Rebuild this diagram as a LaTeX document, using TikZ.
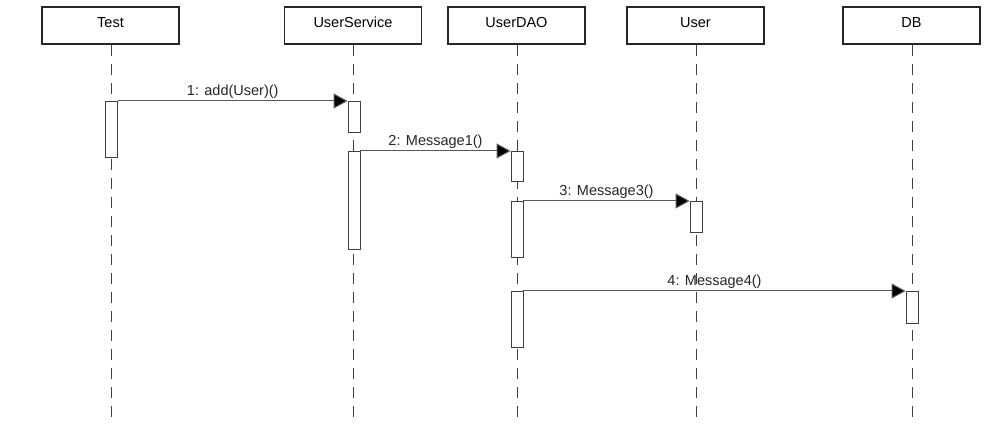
\documentclass[tikz,border=0pt]{standalone}
\usepackage{fontspec}
\setmainfont{Liberation Sans}
\usetikzlibrary{arrows.meta}
\begin{document}
\begin{tikzpicture}[x=1pt,y=-1pt,
  obj/.style={draw=black!85, line width=1.8pt, minimum width=137pt, minimum height=37pt,
    inner sep=0pt, text height=10.8pt, text depth=6pt, font=\fontsize{14.5}{17}\selectfont},
  life/.style={draw=black!75, line width=0.9pt, dash pattern=on 11pt off 8pt},
  act/.style={draw=black!75, fill=white, line width=0.9pt, minimum width=12pt,
    inner sep=0pt, anchor=north},
  msg/.style={draw=black!65, line width=1pt, -{Triangle[length=14pt,width=15pt,fill=black]}},
  lbl/.style={above, inner sep=1.5pt, font=\fontsize{14.5}{17}\selectfont, text=black!85}]
\useasboundingbox (0,0) rectangle (995,443);
% objects
\node[obj] (test) at (110.5,25.5) {Test};
\node[obj] (svc)  at (353,25.5) {UserService};
\node[obj] (dao)  at (516.5,25.5) {UserDAO};
\node[obj] (usr)  at (695.5,25.5) {User};
\node[obj] (db)   at (911.5,25.5) {DB};
% lifeline ends
\coordinate (testEnd) at (111.5,417);
\coordinate (svcEnd)  at (353.5,417);
\coordinate (daoEnd)  at (517,417);
\coordinate (usrEnd)  at (696,417);
\coordinate (dbEnd)   at (912,417);
\draw[life] (test.south -| testEnd) -- (testEnd);
\draw[life] (svc.south -| svcEnd) -- (svcEnd);
\draw[life] (dao.south -| daoEnd) -- (daoEnd);
\draw[life] (usr.south -| usrEnd) -- (usrEnd);
\draw[life] (db.south -| dbEnd) -- (dbEnd);
% activations
\node[act, minimum height=56pt] (aT)  at (111.5,101) {};
\node[act, minimum height=31pt] (aS1) at (354,101) {};
\node[act, minimum height=98pt] (aS2) at (354,151) {};
\node[act, minimum height=30pt] (aD1) at (517,151) {};
\node[act, minimum height=56pt] (aD2) at (517,201) {};
\node[act, minimum height=31pt] (aU)  at (696,201) {};
\node[act, minimum height=56pt] (aD3) at (517,291) {};
\node[act, minimum height=32pt] (aB)  at (912,291) {};
% messages
\draw[msg] (aT.north east) -- (aS1.north west) node[lbl, midway] {1: add(User)()};
\draw[msg] (aS2.north east) -- (aD1.north west) node[lbl, midway] {2: Message1()};
\draw[msg] (aD2.north east) -- (aU.north west) node[lbl, midway] {3: Message3()};
\draw[msg] (aD3.north east) -- (aB.north west) node[lbl, midway] {4: Message4()};
\end{tikzpicture}
\end{document}
